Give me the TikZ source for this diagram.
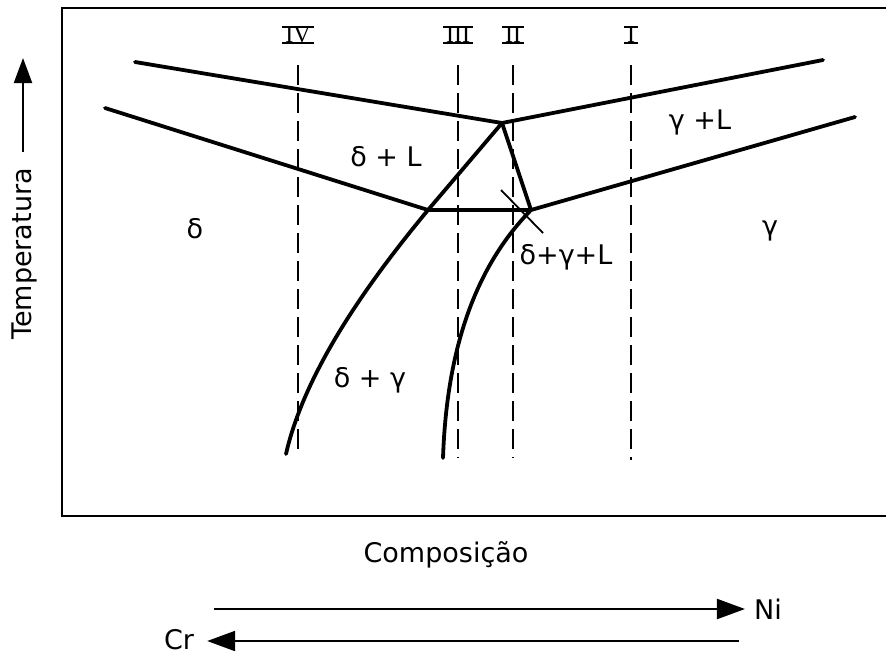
\documentclass[tikz,border=0pt]{standalone}
\usepackage{fontspec}
\setmainfont{DejaVu Sans}
\newfontfamily\numfont{Liberation Serif}
\usetikzlibrary{arrows.meta}

\begin{document}
\begin{tikzpicture}[
    x=1pt, y=-1pt,
    phase/.style={line width=3.8pt, line join=round, line cap=round},
    isopleth/.style={line width=1.6pt, dash pattern=on 20pt off 8pt},
    region/.style={font=\fontsize{27}{30}\selectfont, inner sep=0pt},
    numeral/.style={font=\numfont\fontsize{24}{27}\selectfont, inner ysep=0pt, inner xsep=3pt},
    numbar/.style={line width=2pt},
    axisarrow/.style={line width=2.2pt, -{Triangle[length=28pt,width=20pt]}}
]
\useasboundingbox (0,0) rectangle (886,657);

% frame
\draw[line width=1.8pt] (886,8) -- (62,8) -- (62,516) -- (886,516);

% invariant points
\coordinate (peak) at (502,123);
\coordinate (tieL) at (428,210);
\coordinate (tieR) at (531,210);

% liquidus, solidus and solvus lines
\draw[phase] (135,62) -- (peak) -- (823,60);
\draw[phase] (105,108) -- (tieL) -- (tieR) -- (855,117);
\draw[phase] (peak) -- (tieL) .. controls (370,280) and (305,370) .. (286,454);
\draw[phase] (peak) -- (tieR) .. controls (480,262) and (447,340) .. (443,458);
\draw[line width=1.8pt] (501,190) -- (543,233);

% alloys
\foreach \xpos/\lbl/\yend in {298/IV/455, 458/III/458, 513/II/458, 631/I/460} {
    \node[numeral] (num\lbl) at (\xpos,35) {\lbl};
    \draw[numbar] (num\lbl.north west) -- (num\lbl.north east);
    \draw[numbar] (num\lbl.south west) -- (num\lbl.south east);
    \draw[isopleth] (\xpos,65) -- (\xpos,\yend);
}

% phase fields
\node[region] (deltaL) at (386,157) {δ + L};
\node[region] (gammaL) at (700,122) {γ +L};
\node[region] (delta) at (195,229) {δ};
\node[region] (gamma) at (770,231) {γ};
\node[region] (threephase) at (566,257) {δ+γ+L};
\node[region] (deltagamma) at (370,380) {δ + γ};

% axes
\node[region, rotate=90] (temp) at (24,254) {Temperatura};
\coordinate (tempTip) at (23,58);
\draw[line width=2.2pt, -{Triangle[length=25pt,width=18pt]}] (23,152) -- (tempTip);

\node[region] (comp) at (446,555) {Composição};
\node[region] (ni) at (768,609) {Ni};
\node[region] (cr) at (179,640) {Cr};
\draw[axisarrow, shorten >=9pt] (214,609) -- (ni.west |- 0,609);
\draw[axisarrow, shorten >=13pt] (739,641) -- (cr.east |- 0,641);
\end{tikzpicture}
\end{document}
